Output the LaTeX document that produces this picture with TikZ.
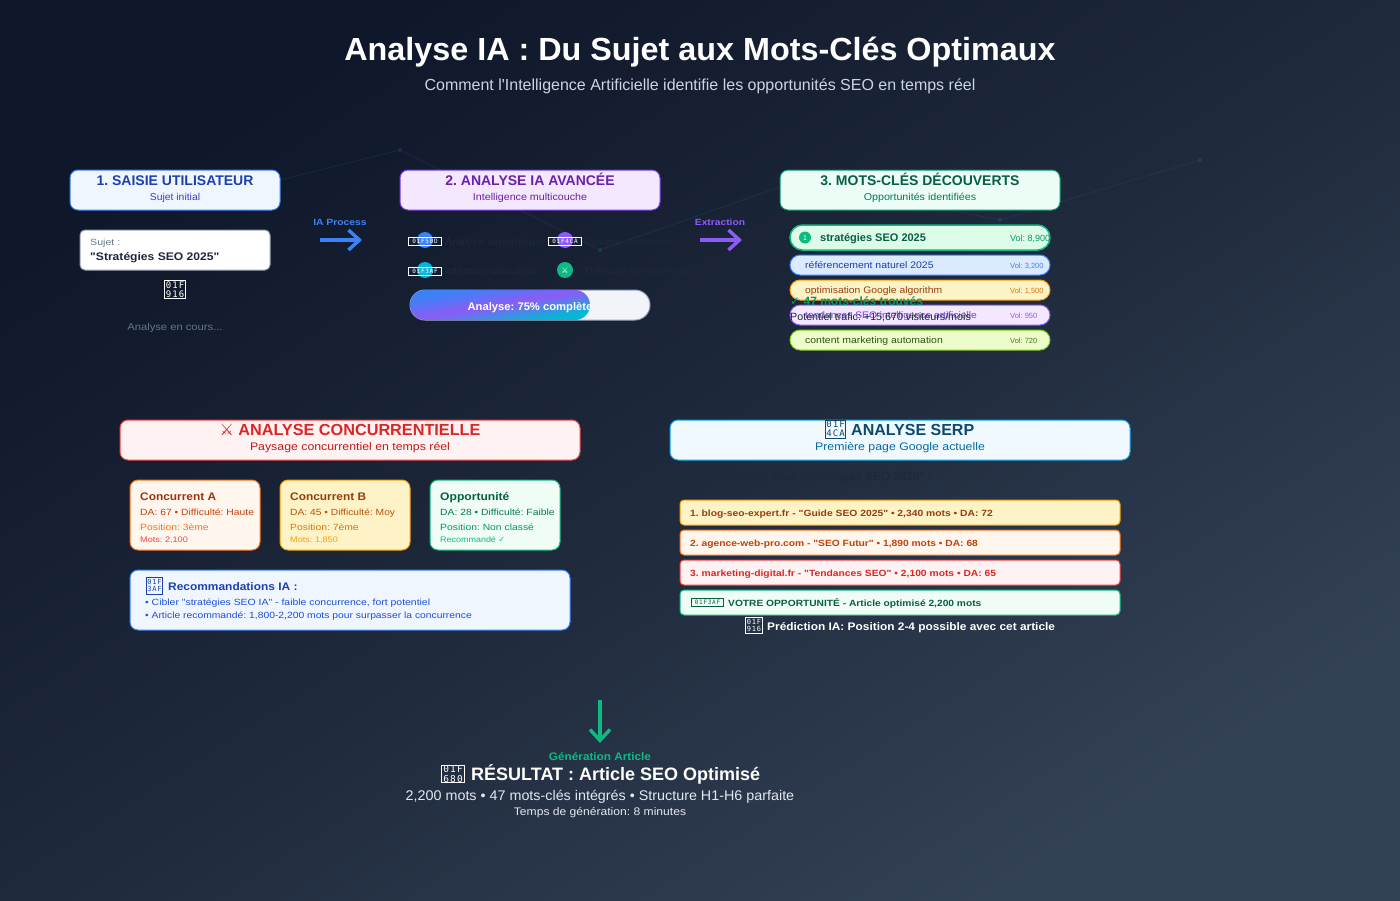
\documentclass[tikz,border=0pt]{standalone}
\usepackage{fontspec}
\setmainfont{Liberation Sans}[Ligatures=TeXOff]
\newfontfamily\symfont{DejaVu Sans}
\newfontfamily\tofufont[LetterSpace=12]{DejaVu Sans Mono}
\usepackage{tikz}
\usetikzlibrary{positioning,arrows.meta}
\definecolor{bgA}{HTML}{0F172A}
\definecolor{bgB}{HTML}{1E293B}
\definecolor{bgC}{HTML}{334155}
\definecolor{barA}{HTML}{3B82F6}
\definecolor{barB}{HTML}{8B5CF6}
\definecolor{barC}{HTML}{06B6D4}
\definecolor{inkdark}{HTML}{1E293B}
\pgfdeclarehorizontalshading{bgshade}{100bp}{color(0bp)=(bgA); color(25bp)=(bgA); color(50bp)=(bgB); color(75bp)=(bgC); color(100bp)=(bgC)}
\pgfdeclarehorizontalshading{barshade}{100bp}{color(0bp)=(barA); color(25bp)=(barA); color(50bp)=(barB); color(75bp)=(barC); color(100bp)=(barC)}
\tikzset{
  txt/.style n args={3}{anchor=#1, inner sep=0, font=\fontsize{#2}{#2}\selectfont\addfontfeature{FakeStretch=#3}},
  btxt/.style n args={3}{anchor=#1, inner sep=0, font=\fontsize{#2}{#2}\selectfont\bfseries\addfontfeature{FakeStretch=#3}},
  panel/.style={draw, rounded corners=8, line width=1, inner sep=0, minimum height=40},
  kwbox/.style={draw, rounded corners=10, line width=1, inner sep=0, minimum width=260, minimum height=20},
  card/.style={draw, rounded corners=8, line width=1, inner sep=0, minimum width=130, minimum height=70},
  serpbox/.style={draw, rounded corners=4, line width=1, inner sep=0, minimum width=440, minimum height=25},
  tofu/.style 2 args={draw, line width=.9, inner sep=0, align=center, minimum width=#1, minimum height=#2},
  dot/.style={circle, inner sep=0, minimum size=16},
  node1/.style={circle, inner sep=0, minimum size=4, fill opacity=.2},
  flow/.style={line width=3.4, -{Straight Barb[length=11pt,width=20pt,line width=3.4pt]}},
  faint/.style={line width=1, draw opacity=.1}
}
\begin{document}
\frenchspacing
\begin{tikzpicture}[x=1pt, y=-1pt]
\useasboundingbox (0,0) rectangle (1400,900);
% background
\shade[shading=bgshade, shading angle=-45, transform canvas={xscale=1.55556}] (0,0) rectangle (900,900);
\node[node1,fill=barA] (n1) at (200,200) {};
\node[node1,fill=barA] (n2) at (400,150) {};
\node[node1,fill=barC] (n3) at (600,250) {};
\node[node1,fill=barB] (n4) at (800,180) {};
\node[node1,fill=barB] (n5) at (1000,220) {};
\node[node1,fill=barA] (n6) at (1200,160) {};
\draw[faint,barA] (n1) -- (n2);
\draw[faint,barB] (n2) -- (n3);
\draw[faint,barC] (n3) -- (n4);
\draw[faint,barB] (n4) -- (n5);
\draw[faint,barA] (n5) -- (n6);
% title
\node[btxt={base}{32}{1.01},white] (title) at (700,60) {Analyse IA : Du Sujet aux Mots-Clés Optimaux};
\node[txt={base}{16}{1},color={rgb,255:red,203;green,213;blue,225}] (subtitle) at (700,90) {Comment l'Intelligence Artificielle identifie les opportunités SEO en temps réel};
% step 1
\node[panel,draw=barA,fill={rgb,255:red,239;green,246;blue,255},minimum width=210] (s1) at (175,190) {};
\node[btxt={base}{14}{1},color={rgb,255:red,30;green,64;blue,175}] (s1t) at (175,185) {1. SAISIE UTILISATEUR};
\node[txt={base}{10}{1.04},color={rgb,255:red,67;green,56;blue,202}] (s1s) at (175,200) {Sujet initial};
\node[draw={rgb,255:red,148;green,163;blue,184},fill=white,rounded corners=5,line width=1,inner sep=0,minimum width=190,minimum height=40] (input) at (175,250) {};
\node[txt={base west}{9}{1.18},color={rgb,255:red,100;green,116;blue,139}] (inputl) at (90,245) {Sujet :};
\node[btxt={base west}{11}{1.1},inkdark] (inputv) at (90,260) {"Stratégies SEO 2025"};
\node[tofu={21}{18},white,font=\tofufont\fontsize{9}{9}\selectfont] (robot) at (175,289.5) {01F\\916};
\node[txt={base}{10}{1.12},color={rgb,255:red,100;green,116;blue,139}] (wait) at (175,330) {Analyse en cours...};
% arrow 1
\coordinate (a1a) at (320,240);
\coordinate (a1b) at (362,240);
\draw[flow,barA] (a1a) -- (a1b);
\node[btxt={base}{9}{1.15},barA] (a1l) at (340,225) {IA Process};
% step 2
\node[panel,draw={rgb,255:red,124;green,58;blue,237},fill={rgb,255:red,243;green,232;blue,255},minimum width=260] (s2) at (530,190) {};
\node[btxt={base}{14}{1},color={rgb,255:red,107;green,33;blue,168}] (s2t) at (530,185) {2. ANALYSE IA AVANCÉE};
\node[txt={base}{10}{1.07},color={rgb,255:red,107;green,33;blue,168}] (s2s) at (530,200) {Intelligence multicouche};
\node[dot,fill=barA] (d1) at (425,240) {};
\node[dot,fill=barB] (d2) at (565,240) {};
\node[dot,fill=barC] (d3) at (425,270) {};
\node[dot,fill={rgb,255:red,16;green,185;blue,129}] (d4) at (565,270) {};
\node[tofu={33}{8.5},white,font=\tofufont\fontsize{6}{6}\selectfont] (t1) at (425,241.5) {01F50D};
\node[tofu={33}{8.5},white,font=\tofufont\fontsize{6}{6}\selectfont] (t2) at (565,241.5) {01F4CA};
\node[tofu={33}{8.5},white,font=\tofufont\fontsize{6}{6}\selectfont] (t3) at (425,271.5) {01F3AF};
\node[white,anchor=center,inner sep=0,font=\symfont\fontsize{8}{8}\selectfont] (t4) at (565,271) {⚔};
\node[txt={base west}{10}{1.1},inkdark] (l1) at (445,245) {Analyse sémantique};
\node[txt={base west}{10}{1.1},inkdark] (l2) at (585,245) {Volume recherche};
\node[txt={base west}{10}{1.1},inkdark] (l3) at (445,274) {Intention utilisateur};
\node[txt={base west}{10}{1.1},inkdark] (l4) at (585,274) {Difficulté concurrence};
\node[draw={rgb,255:red,148;green,163;blue,184},fill={rgb,255:red,241;green,245;blue,249},rounded corners=15,line width=1,inner sep=0,minimum width=240,minimum height=30] (track) at (530,305) {};
\begin{scope}
\clip[rounded corners=15] (410,290) rectangle (590,320);
\shade[shading=barshade, shading angle=-45, transform canvas={cm={6,0,0,1,(410pt,-290pt)}}] (0,0) rectangle (30,30);
\end{scope}
\node[btxt={base}{11}{1.02},white] (barl) at (530,310) {Analyse: 75\% complète};
% arrow 2
\coordinate (a2a) at (700,240);
\coordinate (a2b) at (742,240);
\draw[flow,barB] (a2a) -- (a2b);
\node[btxt={base}{9}{1.14},barB] (a2l) at (720,225) {Extraction};
% step 3
\node[panel,draw={rgb,255:red,5;green,150;blue,105},fill={rgb,255:red,236;green,253;blue,245},minimum width=280] (s3) at (920,190) {};
\node[btxt={base}{14}{1},color={rgb,255:red,6;green,95;blue,70}] (s3t) at (920,185) {3. MOTS-CLÉS DÉCOUVERTS};
\node[txt={base}{10}{1.07},color={rgb,255:red,4;green,120;blue,87}] (s3s) at (920,200) {Opportunités identifiées};
\node[kwbox,draw={rgb,255:red,16;green,185;blue,129},fill={rgb,255:red,220;green,252;blue,231},rounded corners=12.5,minimum height=25,line width=1.5] (k1) at (920,237.5) {};
\node[circle,inner sep=0,minimum size=12,fill={rgb,255:red,16;green,185;blue,129}] (k1d) at (805,237.5) {};
\node[txt={center}{7}{1},white] (k1n) at (805,238) {1};
\node[btxt={base west}{11}{1},color={rgb,255:red,6;green,95;blue,70}] (k1t) at (820,241) {stratégies SEO 2025};
\node[txt={base west}{9}{1},color={rgb,255:red,5;green,150;blue,105}] (k1v) at (1010,241) {Vol: 8,900};
\node[kwbox,draw=barA,fill={rgb,255:red,219;green,234;blue,254}] (k2) at (920,265) {};
\node[txt={base west}{9.5}{1.1},color={rgb,255:red,30;green,64;blue,175}] (k2t) at (805,268) {référencement naturel 2025};
\node[txt={base west}{7.5}{1},barA] (k2v) at (1010,268) {Vol: 3,200};
\node[kwbox,draw={rgb,255:red,245;green,158;blue,11},fill={rgb,255:red,254;green,243;blue,199}] (k3) at (920,290) {};
\node[txt={base west}{9.5}{1.09},color={rgb,255:red,146;green,64;blue,14}] (k3t) at (805,293) {optimisation Google algorithm};
\node[txt={base west}{7.5}{1},color={rgb,255:red,217;green,119;blue,6}] (k3v) at (1010,293) {Vol: 1,500};
\node[kwbox,draw=barB,fill={rgb,255:red,243;green,232;blue,255}] (k4) at (920,315) {};
\node[txt={base west}{9.5}{1.08},color={rgb,255:red,124;green,58;blue,237}] (k4t) at (805,318) {tendances SEO intelligence artificielle};
\node[txt={base west}{7.5}{1},barB] (k4v) at (1010,318) {Vol: 950};
\node[kwbox,draw={rgb,255:red,132;green,204;blue,22},fill={rgb,255:red,236;green,252;blue,203}] (k5) at (920,340) {};
\node[txt={base west}{9.5}{1.1},color={rgb,255:red,54;green,83;blue,20}] (k5t) at (805,343) {content marketing automation};
\node[txt={base west}{7.5}{1},color={rgb,255:red,77;green,124;blue,15}] (k5v) at (1010,343) {Vol: 720};
\node[btxt={base west}{12}{1},color={rgb,255:red,5;green,150;blue,105}] (found) at (790,305) {{\symfont ✓} 47 mots-clés trouvés};
\node[txt={base west}{10.5}{1.02},inkdark] (traffic) at (790,320) {Potentiel trafic: +15,670 visiteurs/mois};
% competitors
\node[panel,draw={rgb,255:red,239;green,68;blue,68},fill={rgb,255:red,254;green,242;blue,242},minimum width=460] (c0) at (350,440) {};
\node[btxt={base}{16}{1.015},color={rgb,255:red,220;green,38;blue,38}] (c0t) at (350,435) {{\symfont\mdseries ⚔} ANALYSE CONCURRENTIELLE};
\node[txt={base}{11}{1.12},color={rgb,255:red,185;green,28;blue,28}] (c0s) at (350,450) {Paysage concurrentiel en temps réel};
\node[card,draw={rgb,255:red,249;green,115;blue,22},fill={rgb,255:red,255;green,247;blue,237}] (ca) at (195,515) {};
\node[btxt={base west}{11}{1.08},color={rgb,255:red,154;green,52;blue,18}] (ca1) at (140,500) {Concurrent A};
\node[txt={base west}{9}{1.15},color={rgb,255:red,194;green,65;blue,12}] (ca2) at (140,515) {DA: 67 • Difficulté: Haute};
\node[txt={base west}{9}{1.15},color={rgb,255:red,249;green,115;blue,22}] (ca3) at (140,530) {Position: 3ème};
\node[txt={base west}{8}{1.14},color={rgb,255:red,239;green,68;blue,68}] (ca4) at (140,542) {Mots: 2,100};
\node[card,draw={rgb,255:red,245;green,158;blue,11},fill={rgb,255:red,254;green,243;blue,199}] (cb) at (345,515) {};
\node[btxt={base west}{11}{1.08},color={rgb,255:red,146;green,64;blue,14}] (cb1) at (290,500) {Concurrent B};
\node[txt={base west}{9}{1.14},color={rgb,255:red,180;green,83;blue,9}] (cb2) at (290,515) {DA: 45 • Difficulté: Moy};
\node[txt={base west}{9}{1.15},color={rgb,255:red,217;green,119;blue,6}] (cb3) at (290,530) {Position: 7ème};
\node[txt={base west}{8}{1.14},color={rgb,255:red,245;green,158;blue,11}] (cb4) at (290,542) {Mots: 1,850};
\node[card,draw={rgb,255:red,16;green,185;blue,129},fill={rgb,255:red,240;green,253;blue,244}] (cc) at (495,515) {};
\node[btxt={base west}{11}{1.1},color={rgb,255:red,6;green,95;blue,70}] (cc1) at (440,500) {Opportunité};
\node[txt={base west}{9}{1.15},color={rgb,255:red,4;green,120;blue,87}] (cc2) at (440,515) {DA: 28 • Difficulté: Faible};
\node[txt={base west}{9}{1.15},color={rgb,255:red,5;green,150;blue,105}] (cc3) at (440,530) {Position: Non classé};
\node[txt={base west}{8}{1.12},color={rgb,255:red,16;green,185;blue,129}] (cc4) at (440,542) {Recommandé {\symfont ✓}};
\node[panel,draw=barA,fill={rgb,255:red,239;green,246;blue,255},minimum width=440,minimum height=60] (rec) at (350,600) {};
\node[tofu={16.5}{17},color={rgb,255:red,30;green,64;blue,175},font=\tofufont\fontsize{7}{7.5}\selectfont] (rect) at (154.5,585.5) {01F\\3AF};
\node[btxt={base west}{11}{1.085},color={rgb,255:red,30;green,64;blue,175}] (rec0) at (168,590) {Recommandations IA :};
\node[txt={base west}{9}{1.16},color={rgb,255:red,29;green,78;blue,216}] (rec1) at (145,605) {• Cibler "stratégies SEO IA" - faible concurrence, fort potentiel};
\node[txt={base west}{9}{1.147},color={rgb,255:red,29;green,78;blue,216}] (rec2) at (145,618) {• Article recommandé: 1,800-2,200 mots pour surpasser la concurrence};
% serp
\node[panel,draw={rgb,255:red,14;green,165;blue,233},fill={rgb,255:red,240;green,249;blue,255},minimum width=460] (p0) at (900,440) {};
\node[btxt={base west}{16}{1},color={rgb,255:red,12;green,74;blue,110}] (p0t) at (851,435) {ANALYSE SERP};
\node[tofu={20}{18},color={rgb,255:red,12;green,74;blue,110},font=\tofufont\fontsize{9}{9}\selectfont] (p0i) at (835.5,429) {01F\\4CA};
\node[txt={base}{11}{1.12},color={rgb,255:red,3;green,105;blue,161}] (p0s) at (900,450) {Première page Google actuelle};
\node[btxt={base west}{12}{.98},inkdark] (p0h) at (695,480) {Top résultats pour "stratégies SEO 2025" :};
\node[serpbox,draw={rgb,255:red,245;green,158;blue,11},fill={rgb,255:red,254;green,243;blue,199}] (p1) at (900,512.5) {};
\node[btxt={base west}{9}{1.147},color={rgb,255:red,146;green,64;blue,14}] (p1t) at (690,516) {1. blog-seo-expert.fr - "Guide SEO 2025" • 2,340 mots • DA: 72};
\node[serpbox,draw={rgb,255:red,249;green,115;blue,22},fill={rgb,255:red,255;green,247;blue,237}] (p2) at (900,542.5) {};
\node[btxt={base west}{9}{1.14},color={rgb,255:red,194;green,65;blue,12}] (p2t) at (690,546) {2. agence-web-pro.com - "SEO Futur" • 1,890 mots • DA: 68};
\node[serpbox,draw={rgb,255:red,239;green,68;blue,68},fill={rgb,255:red,254;green,242;blue,242}] (p3) at (900,572.5) {};
\node[btxt={base west}{9}{1.145},color={rgb,255:red,220;green,38;blue,38}] (p3t) at (690,576) {3. marketing-digital.fr - "Tendances SEO" • 2,100 mots • DA: 65};
\node[serpbox,draw={rgb,255:red,16;green,185;blue,129},fill={rgb,255:red,240;green,253;blue,244}] (p4) at (900,602.5) {};
\node[tofu={32}{8},color={rgb,255:red,6;green,95;blue,70},font=\tofufont\fontsize{6}{6}\selectfont] (p4i) at (707.5,602.5) {01F3AF};
\node[btxt={base west}{9}{1.135},color={rgb,255:red,6;green,95;blue,70}] (p4t) at (728,606) {VOTRE OPPORTUNITÉ - Article optimisé 2,200 mots};
\node[tofu={17}{16.5},white,font=\tofufont\fontsize{7}{7.5}\selectfont] (pr1) at (754,625.5) {01F\\916};
\node[btxt={base west}{11}{1.08},white] (pr2) at (767,630) {Prédiction IA: Position 2-4 possible avec cet article};
% result
\coordinate (a3a) at (600,700);
\coordinate (a3b) at (600,743);
\draw[flow,color={rgb,255:red,16;green,185;blue,129}] (a3a) -- (a3b);
\node[btxt={base}{11}{1.07},color={rgb,255:red,16;green,185;blue,129}] (a3l) at (600,760) {Génération Article};
\node[btxt={base west}{18}{1},white] (r1) at (471,780) {RÉSULTAT : Article SEO Optimisé};
\node[tofu={23}{17},white,font=\tofufont\fontsize{9.5}{9.5}\selectfont] (r0) at (453,774) {01F\\680};
\node[txt={base}{14}{1.024},color={rgb,255:red,226;green,232;blue,240}] (r2) at (600,800) {2,200 mots • 47 mots-clés intégrés • Structure H1-H6 parfaite};
\node[txt={base}{11}{1.1},color={rgb,255:red,226;green,232;blue,240}] (r3) at (600,815) {Temps de génération: 8 minutes};
\end{tikzpicture}
\end{document}
